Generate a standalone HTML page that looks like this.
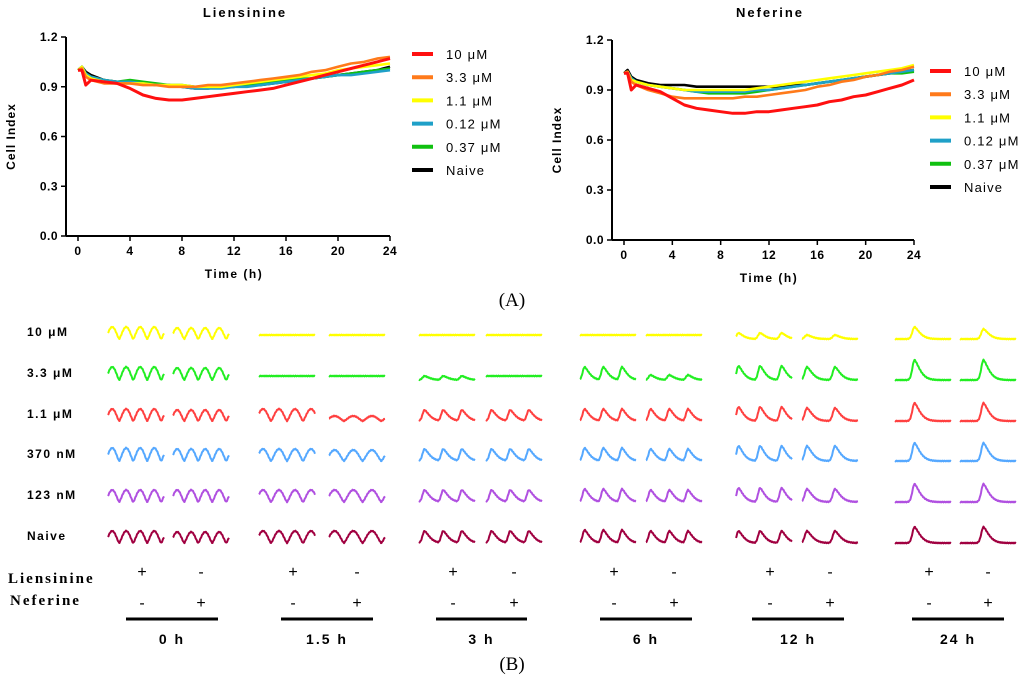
<!DOCTYPE html>
<html><head><meta charset="utf-8"><style>
body{margin:0;background:#fff;width:1024px;height:684px;overflow:hidden;font-family:"Liberation Sans",Arial,sans-serif}
svg text{font-family:"Liberation Sans",Arial,sans-serif}
svg text.serif{font-family:"Liberation Serif",serif}
</style></head><body>
<svg id="s" width="1024" height="684" viewBox="0 0 1024 684"></svg>
<script>
const hours=[0,0.3,0.6,1,2,3,4,5,6,7,8,9,10,11,12,13,14,15,16,17,18,19,20,21,22,23,24];
const seriesNames=["10 μM","3.3 μM","1.1 μM","0.12 μM","0.37 μM","Naive"];
const seriesColors=["#ff1010","#ff7a1a","#ffff00","#1fa0c8","#10c010","#000000"];
const lienValues=[
[1.0,1.0,0.91,0.94,0.93,0.92,0.89,0.85,0.83,0.82,0.82,0.83,0.84,0.85,0.86,0.87,0.88,0.89,0.91,0.93,0.95,0.97,0.99,1.01,1.03,1.05,1.07],
[1.0,1.01,0.96,0.94,0.92,0.92,0.92,0.91,0.91,0.90,0.90,0.90,0.91,0.91,0.92,0.93,0.94,0.95,0.96,0.97,0.99,1.00,1.02,1.04,1.05,1.07,1.08],
[1.0,1.02,0.97,0.95,0.93,0.92,0.92,0.92,0.91,0.91,0.91,0.90,0.90,0.90,0.91,0.92,0.93,0.94,0.95,0.96,0.97,0.98,1.00,1.01,1.02,1.03,1.04],
[1.0,1.02,0.98,0.96,0.94,0.93,0.93,0.92,0.91,0.91,0.90,0.89,0.89,0.89,0.90,0.90,0.91,0.92,0.93,0.94,0.95,0.96,0.97,0.97,0.98,0.99,1.0],
[1.0,1.02,0.98,0.96,0.94,0.93,0.94,0.93,0.92,0.91,0.91,0.90,0.90,0.90,0.90,0.91,0.92,0.93,0.94,0.95,0.95,0.96,0.97,0.98,0.99,1.0,1.01],
[1.0,1.02,0.99,0.97,0.94,0.93,0.93,0.92,0.91,0.91,0.90,0.89,0.89,0.90,0.90,0.91,0.91,0.92,0.93,0.94,0.95,0.96,0.97,0.98,0.99,1.0,1.02]];
const nefValues=[
[1.0,1.0,0.90,0.93,0.91,0.89,0.85,0.81,0.79,0.78,0.77,0.76,0.76,0.77,0.77,0.78,0.79,0.80,0.81,0.83,0.84,0.86,0.87,0.89,0.91,0.93,0.96],
[1.0,1.01,0.95,0.93,0.90,0.88,0.86,0.85,0.85,0.85,0.85,0.85,0.86,0.86,0.87,0.88,0.89,0.90,0.92,0.93,0.95,0.96,0.98,0.99,1.01,1.02,1.04],
[1.0,1.01,0.96,0.95,0.93,0.92,0.91,0.90,0.90,0.90,0.90,0.90,0.90,0.91,0.92,0.93,0.94,0.95,0.96,0.97,0.98,0.99,1.0,1.01,1.02,1.03,1.05],
[1.0,1.01,0.97,0.95,0.93,0.92,0.91,0.90,0.89,0.89,0.89,0.89,0.89,0.90,0.90,0.91,0.92,0.93,0.94,0.95,0.96,0.97,0.98,0.99,1.0,1.01,1.02],
[1.0,1.01,0.97,0.95,0.93,0.92,0.91,0.90,0.89,0.88,0.88,0.88,0.88,0.89,0.90,0.91,0.92,0.93,0.94,0.95,0.96,0.97,0.98,0.99,1.0,1.0,1.01],
[1.0,1.02,0.98,0.96,0.94,0.93,0.93,0.93,0.92,0.92,0.92,0.92,0.92,0.92,0.92,0.92,0.93,0.93,0.94,0.95,0.96,0.97,0.98,0.99,1.0,1.01,1.02]];
const xTicks=[0,4,8,12,16,20,24];
const yTicks=[0,0.3,0.6,0.9,1.2];
const traceRowLabels=["10 μM","3.3 μM","1.1 μM","370 nM","123 nM","Naive"];
const traceColors=["#ffff00","#22ee22","#ff4040","#55a8ff","#b050e0","#a00040"];
const timeLabels=["0 h","1.5 h","3 h","6 h","12 h","24 h"];
const tracePeaks=[4,4,3.5,3,3,3,3,3,2.6,2,1,1];
const tracePhase=[0.3,0.3,0.25,0.3,0.3,0.3,0.25,0.25,0.12,0.18,0.35,0.42];
const traceShape=[0,0,0,0,0.5,0.5,0.6,0.6,1,1,1,1];
const traceAmps=[
[12,11,0,0,0,0,0,0,6,4,12,10],
[13,12,0,0,4,0,13,5,14,13,20,20],
[12,11,12,5,11,11,12,12,14,13,18,18],
[13,12,12,11,12,12,13,12,15,15,18,18],
[12,12,12,12,12,12,13,12,14,13,18,18],
[12,11,12,12,12,12,13,12,12,12,16,16]];
const traceX=[108,173,259,329,419,486,580,646,736,802,895,960];
const groupBars=[[126,218],[281,373],[436,527],[600,692],[752,844],[912,1004]];

const S=document.getElementById('s');const NS='http://www.w3.org/2000/svg';
function E(t,a,p,txt){const e=document.createElementNS(NS,t);for(const k in a)e.setAttribute(k,a[k]);if(txt!==undefined)e.textContent=txt;(p||S).appendChild(e);return e;}

function chart(cfg,vals,name){
  const g=E('g',{});
  
  
  const X=h=>cfg.x0+(cfg.x1-cfg.x0)*h/24, Y=v=>cfg.y0-(cfg.y0-cfg.yt)*v/1.2;
  const ax=E('path',{d:`M${cfg.ax},${Y(1.2)}V${Y(0)}M${cfg.ax},${Y(0)}H${X(24)}`,stroke:'#000','stroke-width':2,fill:'none'},g);
  
  yTicks.forEach(v=>{E('line',{x1:cfg.ax-5,x2:cfg.ax,y1:Y(v),y2:Y(v),stroke:'#000','stroke-width':1.5},g);
    const t=E('text',{x:cfg.ax-8,y:Y(v)+4,'text-anchor':'end','font-size':12,'font-weight':'bold','letter-spacing':0.5},g,v.toFixed(1));
    });
  xTicks.forEach(h=>{E('line',{x1:X(h),x2:X(h),y1:Y(0),y2:Y(0)+5,stroke:'#000','stroke-width':1.5},g);
    const t=E('text',{x:X(h),y:Y(0)+19,'text-anchor':'middle','font-size':12,'font-weight':'bold','letter-spacing':0.5},g,String(h));
    });
  const tt=E('text',{x:cfg.tx,y:cfg.ty,'text-anchor':'middle','font-size':13,'font-weight':'bold','letter-spacing':2},g,cfg.title);
  
  const xt=E('text',{x:X(12),y:Y(0)+42,'text-anchor':'middle','font-size':12,'font-weight':'bold','letter-spacing':1.5},g,'Time (h)');
  
  const yt=E('text',{x:0,y:0,transform:`translate(${cfg.ax-51},${Y(0.6)}) rotate(-90)`,'text-anchor':'middle','font-size':12,'font-weight':'bold','letter-spacing':1},g,'Cell Index');
  
  for(let i=vals.length-1;i>=0;i--){const d=vals[i].map((v,j)=>(j?'L':'M')+X(hours[j]).toFixed(1)+','+Y(v).toFixed(1)).join('');
    const p=E('path',{d,stroke:seriesColors[i],'stroke-width':i==0?3:2.6,fill:'none','stroke-linejoin':'round'},g);
    }
  seriesNames.forEach((n,i)=>{const y=cfg.ly+i*23.2;
    const l=E('g',{},g);
    E('line',{x1:cfg.lx,x2:cfg.lx+21,y1:y,y2:y,stroke:seriesColors[i],'stroke-width':4},l);
    E('text',{x:cfg.lx+34,y:y+5,'font-size':13,'letter-spacing':1.2},l,n);});
}
chart({x0:78,x1:390,ax:66,y0:236,yt:37,tx:245,ty:17,title:'Liensinine',lx:412,ly:54},lienValues,'liensinine-chart');
chart({x0:624,x1:914,ax:612,y0:240,yt:40,tx:770,ty:17,title:'Neferine',lx:930,ly:71},nefValues,'neferine-chart');
const A=E('text',{x:512,y:306,'text-anchor':'middle','font-size':19,'class':'serif'},S,'(A)');

const B=E('text',{x:512,y:670,'text-anchor':'middle','font-size':19,'class':'serif'},S,'(B)');


const rowY=[331,372,413,453,494,535];
traceRowLabels.forEach((n,r)=>{const t=E('text',{x:27,y:rowY[r]+5,'font-size':12,'font-weight':'bold','letter-spacing':1.5},S,n);
  });
function shapeF(t,s,per){
  if(s<0.3){const u=t/per-Math.floor(t/per);return Math.pow(Math.sin(Math.PI*u),1.3);}
  const u=Math.min(per,24)*(1.4-0.4*s);
  if(t<0)return Math.exp(-Math.pow(t/(0.13*u),2));
  return Math.exp(-Math.pow(t/(0.3*u),1.4));
}
traceX.forEach((x0,c)=>{
  traceAmps.forEach((ampRow,r)=>{
    const A=ampRow[c],W=56,n=tracePeaks[c],per=W/n,base=rowY[r]+8;let d='';
    for(let k=0;k<=112;k++){const x=k/2;let v=0;
      if(A>0){if(traceShape[c]<0.3){v=shapeF(x-tracePhase[c]*per+per*0.5,0,per);}
        else{for(let p=-1;p<=Math.ceil(n);p++){const px=(tracePhase[c]+p)*per;v=Math.max(v,shapeF(x-px,traceShape[c],per));}}}
      const y=base-(A>0?A*v:4)+Math.sin(k*1.7)*0.4;
      d+=(k?'L':'M')+(x0+x).toFixed(1)+','+y.toFixed(1);}
    const p=E('path',{d,stroke:traceColors[r],'stroke-width':2,fill:'none','stroke-linejoin':'round'});
    
  });
});
const L1=E('text',{x:8,y:583,'font-size':15,'font-weight':'bold','class':'serif','letter-spacing':2},S,'Liensinine');

const L2=E('text',{x:10,y:605,'font-size':15,'font-weight':'bold','class':'serif','letter-spacing':2},S,'Neferine');

groupBars.forEach((b,i)=>{const c1=traceX[2*i]+34,c2=traceX[2*i+1]+28;
  E('text',{x:c1,y:577,'text-anchor':'middle','font-size':16},S,'+');E('text',{x:c2,y:577,'text-anchor':'middle','font-size':16},S,'-');
  E('text',{x:c1,y:608,'text-anchor':'middle','font-size':16},S,'-');E('text',{x:c2,y:608,'text-anchor':'middle','font-size':16},S,'+');
  const bar=E('line',{x1:b[0],x2:b[1],y1:619,y2:619,stroke:'#000','stroke-width':3});
  
  const t=E('text',{x:(b[0]+b[1])/2,y:644,'text-anchor':'middle','font-size':14,'font-weight':'bold','letter-spacing':2},S,timeLabels[i]);
  });
</script>
</body></html>
